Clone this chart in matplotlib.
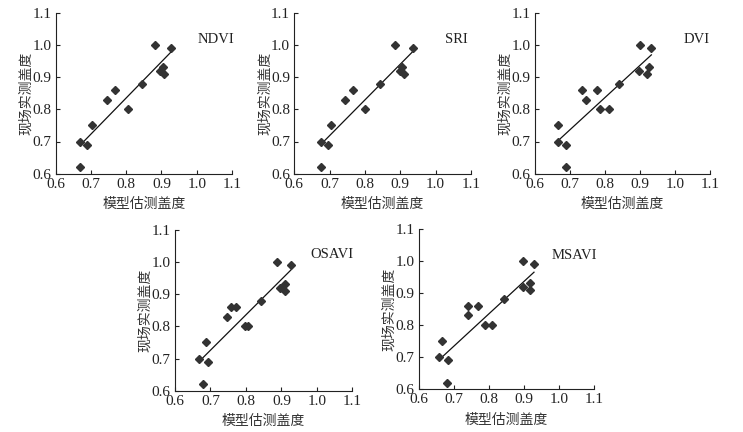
import matplotlib
matplotlib.use("Agg")
import matplotlib.pyplot as plt

plt.rcParams['font.family'] = ['Liberation Serif', 'Noto Sans CJK SC']

titles = ["NDVI", "SRI", "DVI", "OSAVI", "MSAVI"]

ndvi_x = [0.670, 0.670, 0.690, 0.702, 0.745, 0.768, 0.805, 0.846, 0.883, 0.897, 0.903, 0.908, 0.927]
ndvi_y = [0.70, 0.62, 0.69, 0.75, 0.83, 0.86, 0.80, 0.88, 1.00, 0.92, 0.93, 0.91, 0.99]
sri_x = [0.675, 0.675, 0.694, 0.705, 0.744, 0.767, 0.801, 0.842, 0.886, 0.899, 0.906, 0.911, 0.935]
sri_y = [0.70, 0.62, 0.69, 0.75, 0.83, 0.86, 0.80, 0.88, 1.00, 0.92, 0.93, 0.91, 0.99]
dvi_x = [0.665, 0.665, 0.688, 0.688, 0.735, 0.746, 0.776, 0.785, 0.812, 0.841, 0.896, 0.901, 0.920, 0.924, 0.932]
dvi_y = [0.70, 0.75, 0.69, 0.62, 0.86, 0.83, 0.86, 0.80, 0.80, 0.88, 0.92, 1.00, 0.91, 0.93, 0.99]
osavi_x = [0.669, 0.680, 0.688, 0.692, 0.748, 0.759, 0.773, 0.797, 0.806, 0.842, 0.889, 0.896, 0.909, 0.910, 0.927]
osavi_y = [0.70, 0.62, 0.75, 0.69, 0.83, 0.86, 0.86, 0.80, 0.80, 0.88, 1.00, 0.92, 0.93, 0.91, 0.99]
msavi_x = [0.658, 0.665, 0.679, 0.682, 0.739, 0.741, 0.769, 0.787, 0.808, 0.843, 0.898, 0.898, 0.917, 0.917, 0.928]
msavi_y = [0.70, 0.75, 0.62, 0.69, 0.86, 0.83, 0.86, 0.80, 0.80, 0.88, 1.00, 0.92, 0.93, 0.91, 0.99]

# fitted line endpoints
line_x = [[0.675, 0.928], [0.678, 0.935], [0.668, 0.932], [0.672, 0.927], [0.662, 0.928]]
line_y = [[0.695, 0.979], [0.694, 0.979], [0.704, 0.969], [0.695, 0.975], [0.696, 0.965]]

label_pos = [(1.054, 1.017), (1.060, 1.017), (1.062, 1.017), (1.043, 1.023), (1.043, 1.017)]

ticks = [0.6, 0.7, 0.8, 0.9, 1.0, 1.1]
tick_labels = ["0.6", "0.7", "0.8", "0.9", "1.0", "1.1"]
xlabel = "模型估测盖度"
ylabel = "现场实测盖度"

xs = [ndvi_x, sri_x, dvi_x, osavi_x, msavi_x]
ys = [ndvi_y, sri_y, dvi_y, osavi_y, msavi_y]

W, H = 743, 432
fig = plt.figure(figsize=(W / 100, H / 100), dpi=100)
fig.patch.set_facecolor('white')

# axes boxes in pixel coords: left, right, top, bottom
boxes = [(55.7, 232.0, 12.7, 173.7),
         (294.3, 471.0, 12.7, 173.7),
         (534.7, 710.4, 12.7, 173.7),
         (175.0, 352.3, 229.7, 390.7),
         (419.0, 594.3, 229.0, 389.0)]

for i in range(5):
    l, r, t, b = boxes[i]
    aw, ah = r - l, b - t
    ax = fig.add_axes([l / W, 1 - b / H, aw / W, ah / H])
    ax.set_xlim(0.6, 1.1)
    ax.set_ylim(0.6, 1.1)
    ax.spines['top'].set_visible(False)
    ax.spines['right'].set_visible(False)
    for s in ['left', 'bottom']:
        ax.spines[s].set_linewidth(0.8)
        ax.spines[s].set_color('#222222')
    ax.set_xticks(ticks)
    ax.set_xticklabels(tick_labels)
    ax.set_yticks(ticks)
    ax.set_yticklabels(tick_labels)
    ax.tick_params(direction='in', length=3, width=0.8, labelsize=11, colors='#222222')
    ax.tick_params(axis='x', pad=3)
    ax.tick_params(axis='y', pad=3)
    ax.plot(line_x[i], line_y[i], color='#111111', lw=0.9)
    ax.plot(xs[i], ys[i], linestyle='none', marker='D', ms=4.3, color='#333333', mec='#333333')
    ax.text(label_pos[i][0], label_pos[i][1], titles[i], ha='center', va='center', fontsize=10.5, color='#222222')
    ax.set_xlabel(xlabel, fontsize=10, color='#333333', family=['Noto Sans CJK SC'])
    ax.set_ylabel(ylabel, fontsize=10, color='#333333', family=['Noto Sans CJK SC'])
    ax.xaxis.set_label_coords(0.5, -30.5 / ah)
    ax.yaxis.set_label_coords(-29.5 / aw, 0.5)
    ax.xaxis.label.set_va('center')
    ax.yaxis.label.set_va('center')
    ax.set_facecolor('white')

fig.savefig("out.png", dpi=100, facecolor='white')
